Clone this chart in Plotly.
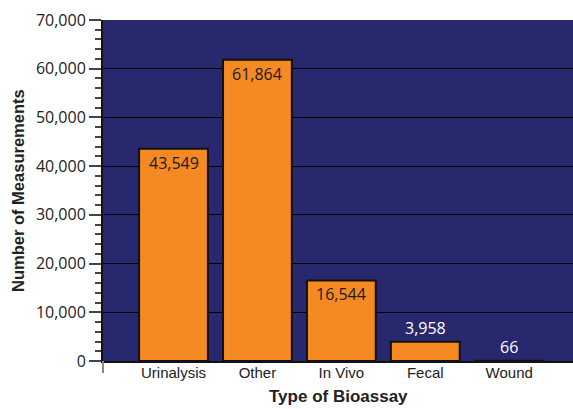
import plotly.graph_objects as go

categories = ["Urinalysis", "Other", "In Vivo", "Fecal", "Wound"]
values = [43549, 61864, 16544, 3958, 66]
inside_flags = [True, True, True, False, False]
y_tick_vals = [0, 10000, 20000, 30000, 40000, 50000, 60000, 70000]
y_tick_text = ["0", "10,000", "20,000", "30,000", "40,000", "50,000", "60,000", "70,000"]

fig = go.Figure()
fig.add_trace(go.Bar(
    x=categories, y=values, width=0.82,
    marker=dict(color="#f48a21", line=dict(color="#111111", width=2)),
    hoverinfo="skip",
))

for c, v, ins in zip(categories, values, inside_flags):
    fig.add_annotation(
        x=c, y=v, text=f"{v:,}", showarrow=False,
        yshift=-14 if ins else 14,
        font=dict(family="Open Sans", size=16, color="#1a1a1a" if ins else "#ffffff"),
    )

fig.add_shape(type="line", xref="paper", yref="paper", x0=0, x1=0, y0=0, y1=-0.035,
              line=dict(color="#888888", width=2))

# axis titles
fig.add_annotation(xref="paper", yref="paper", x=0.5, y=-0.105, yanchor="middle",
                   text="<b>Type of Bioassay</b>", showarrow=False,
                   font=dict(family="Liberation Sans", size=17, color="#222222"))
fig.add_annotation(xref="paper", yref="paper", x=-0.182, y=0.5, xanchor="center",
                   text="<b>Number of Measurements</b>", showarrow=False, textangle=-90,
                   font=dict(family="Liberation Sans", size=16.5, color="#222222"))

fig.update_layout(
    width=573, height=409,
    margin=dict(l=103, r=0, t=20, b=48),
    paper_bgcolor="white", plot_bgcolor="#27286e",
    showlegend=False,
    xaxis=dict(
        range=[-0.84, 4.76], showgrid=False, ticks="", automargin=False,
        ticklabelstandoff=-3,
        tickfont=dict(family="Liberation Sans", size=15, color="#222222"),
        showline=True, linecolor="#111111", linewidth=2,
    ),
    yaxis=dict(
        range=[0, 70000], tickvals=y_tick_vals, ticktext=y_tick_text, automargin=False,
        showgrid=True, gridcolor="#000000", gridwidth=1,
        ticks="outside", ticklen=12, tickcolor="#444444", tickwidth=1.5,
        minor=dict(dtick=2000, ticks="outside", ticklen=6, tickcolor="#444444", tickwidth=1.5, showgrid=False),
        tickfont=dict(family="Open Sans", size=16, color="#222222"),
        showline=True, linecolor="#111111", linewidth=2,
        zeroline=False,
    ),
)

fig.write_html("out.html", config={"displayModeBar": False},
               post_script="document.body.style.margin='0';document.body.style.overflow='hidden';")
